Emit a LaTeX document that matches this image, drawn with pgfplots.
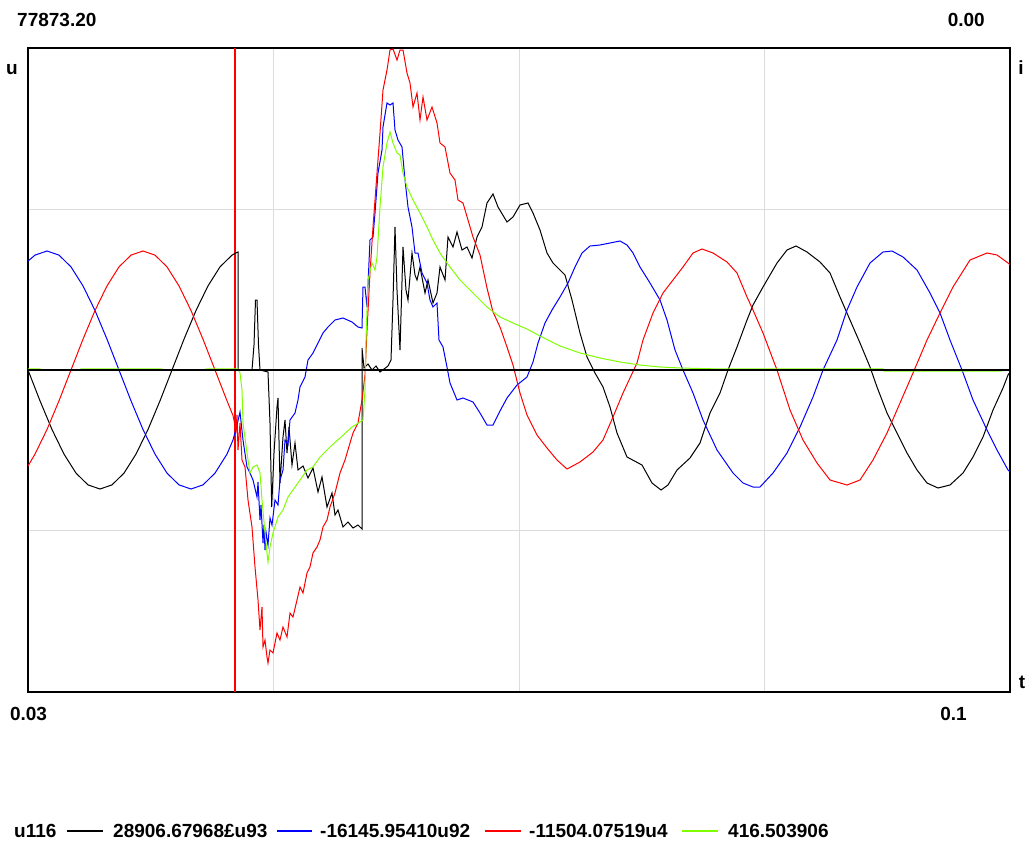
\documentclass[border=0pt]{standalone}
\usepackage{fontspec}
\setmainfont{Liberation Sans}
\usepackage{pgfplots}
\pgfplotsset{compat=1.18}
\definecolor{lgreen}{RGB}{128,255,0}
\definecolor{gridgray}{RGB}{220,220,220}
\definecolor{cursorred}{RGB}{255,0,0}
\begin{document}
\begin{tikzpicture}
\useasboundingbox (-28pt,-162pt) rectangle (1005pt,692pt);
\begin{axis}[at={(0pt,0pt)}, anchor=south west,
  scale only axis, width=982pt, height=644pt,
  xmin=28, xmax=1010, ymin=48, ymax=692, y dir=reverse,
  axis line style={black, line width=1.5pt},
  xtick={273.5,519,764.5}, ytick={209,530},
  xticklabels={}, yticklabels={},
  major tick length=0pt,
  grid=major, grid style={gridgray, line width=1pt},
  every axis plot/.append style={line width=1pt, mark=none},
  clip=true]
% cursor
\addplot[draw=cursorred, line width=1.2pt] coordinates {(235,48) (235,692)};
% black
\addplot[black] coordinates {
(28,370) (40,400.8) (52,429.5) (64,454.1) (76,473.1) (88,484.9) (100,489) (112,484.9) (124,473.1) (136,454.1) (148,429.5) (160,400.8) (172,370) (184,339.2) (196,310.5) (208,285.9) (220,266.9) (232,255.1) (237,252.4) (238,252) (238,370) (252,370) (254,345) (255.5,300) (257,300) (258.5,345) (260,370) (268,372) (270,423) (271.7,507) (274,453) (277,407) (278,398) (280,483) (283,437) (285,420) (287,453) (289,427) (292,465) (295,443) (298,470) (303,466) (308,478) (313,468) (318,492) (322,477) (327,507) (332,493) (335,515) (338,510) (343,527) (348,522) (353,528) (358,525) (362,529) (362,348) (364,368) (368,364) (372,370) (376,366) (380,372) (384,369) (388,366) (391,360) (393,300) (395,227) (397,290) (400,350) (403,247) (406,290) (408,300) (412,253) (415,275) (417,280) (420,267) (425,293) (428,280) (433,303) (437,293) (440,267) (445,280) (448,237) (453,247) (457,232) (462,250) (467,247) (472,258) (477,237) (482,227) (487,203) (493,194) (498,207) (507,222) (513,217) (520,205) (528,203) (533,213) (540,230) (547,253) (553,263) (560,270) (565,275) (572,300) (580,333) (587,357) (595,373) (603,387) (610,407) (617,433) (627,457) (642,465) (652,483) (661,490) (668,485) (677,470) (690,458) (700,443) (710,413) (720,393) (728,370) (737,347) (747,320) (753,305) (763,287) (777,263) (787,250) (796,246) (807,252) (820,262) (830,273) (840,297) (850,320) (860,343) (870,367) (877,387) (887,413) (897,433) (907,453) (917,470) (927,483) (938,488) (950,485) (963,473) (973,457) (983,437) (993,410) (1003,388) (1008,375) (1010,372)
};
% blue
\addplot[blue] coordinates {
(28,261.1) (35,255.1) (47,251) (59,255.1) (71,266.9) (83,285.9) (95,310.5) (107,339.2) (119,370) (131,400.8) (143,429.5) (155,454.1) (167,473.1) (179,484.9) (191,489) (203,484.9) (215,473.1) (227,454.1) (233,440) (237,425) (240,412) (243,440) (247,467) (250,473) (253,480) (257,497) (258,482) (260,520) (261,505) (263,543) (264,525) (265,550) (266,532) (268,545) (270,518) (272,525) (275,500) (278,505) (280,480) (283,470) (285,440) (288,445) (290,420) (295,413) (298,400) (300,387) (305,377) (308,360) (313,353) (318,343) (323,333) (328,327) (335,320) (343,318) (352,322) (358,327) (362,328) (363,287) (365,287) (367,307) (370,240) (373,237) (375,213) (378,173) (382,150) (383,127) (387,103) (390,105) (393,103) (395,130) (398,140) (402,147) (405,180) (408,207) (412,227) (415,253) (418,253) (422,273) (427,283) (430,300) (433,307) (437,303) (439,340) (443,347) (447,367) (450,383) (457,400) (463,398) (473,402) (480,413) (487,425) (493,425) (500,411) (507,398) (517,385) (527,377) (533,362) (538,343) (545,323) (552,310) (560,297) (568,283) (575,267) (582,253) (590,246) (600,245) (610,243) (620,241) (627,245) (633,253) (640,267) (650,283) (660,300) (667,320) (675,350) (683,370) (693,393) (703,420) (717,450) (733,473) (743,483) (753,487) (760,487) (773,473) (787,453) (800,427) (813,397) (823,370) (837,340) (847,310) (857,287) (870,263) (883,252) (892,251) (903,257) (917,270) (930,293) (940,313) (950,340) (962,370) (973,400) (987,430) (997,450) (1008,470) (1010,472)
};
% red
\addplot[red] coordinates {
(28,466) (35,454.1) (47,429.5) (59,400.8) (71,370) (83,339.2) (95,310.5) (107,285.9) (119,266.9) (131,255.1) (143,251) (155,255.1) (167,266.9) (179,285.9) (191,310.5) (203,339.2) (215,370) (227,400.8) (233,415.5) (236,430) (237,415) (238,450) (240,423) (242,460) (245,467) (248,500) (252,527) (255,567) (258,600) (260,630) (262,607) (263,647) (265,640) (267,657) (268,663) (270,650) (273,653) (277,633) (280,640) (283,627) (287,637) (290,613) (293,617) (297,600) (300,587) (303,593) (307,573) (310,567) (313,553) (317,547) (320,540) (323,527) (327,520) (330,507) (335,493) (340,473) (345,460) (350,443) (353,433) (358,423) (362,400) (365,375) (367,330) (370,273) (373,227) (377,173) (380,133) (383,90) (387,70) (390,50) (393,49) (397,60) (400,50) (403,50) (407,73) (410,83) (413,107) (417,93) (420,120) (423,97) (427,120) (432,107) (437,123) (440,143) (445,147) (450,173) (455,180) (458,200) (463,203) (468,220) (473,237) (480,255) (487,288) (493,312) (500,327) (507,347) (513,365) (520,393) (527,415) (537,435) (547,448) (557,460) (567,469) (580,462) (593,452) (603,440) (613,417) (623,393) (637,363) (643,340) (653,313) (663,293) (673,280) (683,267) (693,253) (702,249) (713,253) (727,262) (737,273) (747,297) (753,310) (763,333) (777,370) (790,410) (803,440) (817,463) (830,480) (847,485) (860,480) (873,460) (887,433) (900,403) (913,373) (927,340) (940,313) (953,287) (970,260) (987,253) (997,255) (1008,263) (1010,265)
};
% green
\addplot[lgreen] coordinates {
(28,368.8) (40,368.8) (41,370) (80,370) (81,368.8) (162,368.8) (163,370) (205,370) (206,368.8) (238,368.8) (240,373) (242,390) (243,423) (247,453) (250,473) (253,467) (257,465) (260,473) (262,500) (265,533) (267,553) (268,562) (270,547) (273,533) (278,517) (283,510) (288,497) (293,490) (300,480) (307,470) (313,467) (320,457) (330,447) (340,438) (352,427) (360,422) (363,420) (365,390) (366,340) (368,280) (372,263) (375,270) (377,257) (380,207) (383,167) (387,143) (390,132) (393,143) (397,153) (400,155) (403,173) (407,187) (413,200) (420,213) (427,227) (433,240) (440,253) (450,267) (460,280) (473,293) (487,307) (500,317) (513,323) (527,329) (540,336) (560,346) (580,353) (600,358) (620,362) (640,365) (660,367) (680,368) (713,368.8) (883,368.8) (884,371.2) (1002,371.2)
};
% zero line
\addplot[black, line width=1.4pt] coordinates {(28,370) (1010,370)};
\end{axis}
\begin{scope}[every node/.style={inner sep=0pt, font=\fontsize{19}{22}\selectfont\bfseries}]
\node[anchor=west] at (-11pt,672pt) {77873.20};
\node[anchor=east] at (957pt,672pt) {0.00};
\node at (-16pt,622pt) {u};
\node at (993pt,624pt) {i};
\node at (994pt,10pt) {t};
\node at (0.5pt,-22pt) {0.03};
\node at (925.5pt,-22pt) {0.1};
\node[anchor=west] at (-14pt,-139pt) {u116};
\draw[black, line width=2.2pt] (39pt,-139pt) -- (75pt,-139pt);
\node[anchor=west] at (85pt,-139pt) {28906.67968£u93};
\draw[blue, line width=2.2pt] (249pt,-139pt) -- (284pt,-139pt);
\node[anchor=west] at (292pt,-139pt) {-16145.95410u92};
\draw[red, line width=2.2pt] (457pt,-139pt) -- (493pt,-139pt);
\node[anchor=west] at (501pt,-139pt) {-11504.07519u4};
\draw[lgreen, line width=2.2pt] (654pt,-139pt) -- (690pt,-139pt);
\node[anchor=west] at (700pt,-139pt) {416.503906};
\end{scope}
\end{tikzpicture}
\end{document}
